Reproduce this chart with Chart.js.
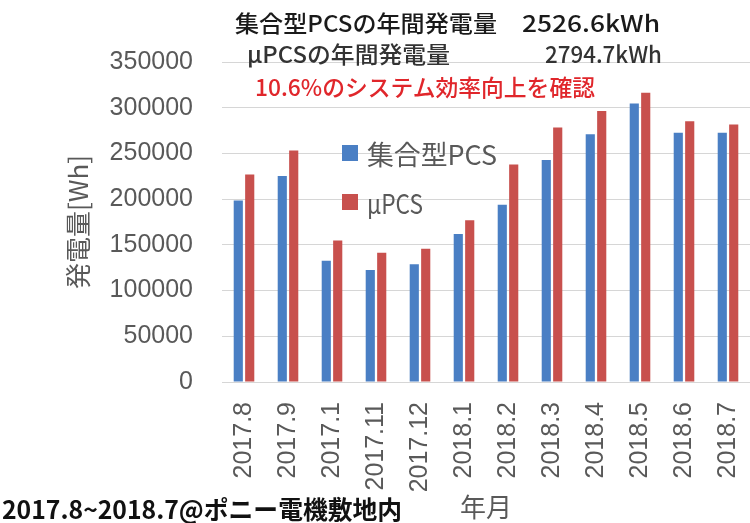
<!DOCTYPE html>
<html><head><meta charset="utf-8">
<script src="https://cdn.jsdelivr.net/npm/chart.js@4"></script>
<style>
html,body{margin:0;padding:0;background:#fff;}
#wrap{position:relative;width:750px;height:523px;overflow:hidden;background:#fff;}
#c{position:absolute;left:0;top:0;}
.t{position:absolute;white-space:nowrap;font-family:"Noto Sans CJK JP",sans-serif;transform-origin:0 50%;display:inline-block;line-height:1;}
.sq{position:absolute;width:16px;height:16px;}
</style></head><body>
<div id="wrap"><canvas id="c" width="750" height="523"></canvas><div id="overlay"></div></div>
<script>
// ---- data ----
const months = ['2017.8','2017.9','2017.1','2017.11','2017.12','2018.1','2018.2','2018.3','2018.4','2018.5','2018.6','2018.7'];
const centralPCS = [198600,225200,132700,122400,128700,161800,193900,242700,271100,304700,272600,272600];
const microPCS   = [227000,253300,154900,141400,145800,176800,238000,278400,296300,316400,285300,281700];
const seriesNames = ['集合型PCS','μPCS'];
const yTitle = '発電量[Wh]';
const xTitle = '年月';
const noteTexts = ['集合型PCSの年間発電量','2526.6kWh','μPCSの年間発電量','2794.7kWh','10.6%のシステム効率向上を確認','2017.8~2018.7@ポニー電機敷地内'];

// ---- layout of free texts (x, centerY, width, size, color, weight) ----
const noteLayout = [
  [235,22,262,23,'#1a1a1a',500],
  [522,22,138,23,'#1a1a1a',500],
  [247,53,203,23,'#333',500],
  [545,53,117,23,'#333',500],
  [255,86,340,23,'#e0262b',500],
  [2,508,400,25,'#111',700]
];

const chart = new Chart(document.getElementById('c'), {
  type:'bar',
  data:{labels:months, datasets:[
    {label:seriesNames[0], data:centralPCS, backgroundColor:'#4a7fc4', categoryPercentage:0.52, barPercentage:0.8},
    {label:seriesNames[1], data:microPCS, backgroundColor:'#c8504d', categoryPercentage:0.52, barPercentage:0.8}
  ]},
  options:{
    responsive:false, animation:false, devicePixelRatio:1,
    layout:{padding:{top:62,left:0,right:0,bottom:0}},
    plugins:{legend:{display:false}, tooltip:{enabled:false}},
    scales:{
      x:{
        grid:{display:false, drawTicks:false}, border:{display:false},
        ticks:{autoSkip:false, maxRotation:90, minRotation:90, padding:20, color:'#595959', font:{family:'Liberation Sans', size:25}},
        title:{display:true, text:xTitle, color:'#595959', font:{family:'Noto Sans CJK JP', size:26}, padding:{top:0,bottom:0}},
        afterFit(s){ s.height = 141; s.paddingLeft = 0; s.paddingRight = 0; }
      },
      y:{
        min:0, max:350000,
        ticks:{stepSize:50000, padding:29, color:'#595959', font:{family:'Liberation Sans', size:25}, callback:v=>String(v)},
        grid:{color:'#d6d6d6', drawTicks:false}, border:{display:false},
        title:{display:true, text:yTitle, color:'#595959', font:{family:'Noto Sans CJK JP', size:26}, padding:{top:63,bottom:0}},
        afterFit(s){ s.width = 222; s.paddingTop = 0; s.paddingBottom = 0; }
      }
    }
  }
});

const ov = document.getElementById('overlay');
function addText(txt, x, cy, w, size, color, weight){
  const d = document.createElement('div');
  d.className = 't';
  d.textContent = txt;
  d.style.fontSize = size+'px';
  d.style.color = color;
  d.style.fontWeight = weight;
  d.style.left = x+'px';
  d.style.top = (cy - size/2)+'px';
  ov.appendChild(d);
  const a = d.getBoundingClientRect().width;
  if (w && a) d.style.transform = 'scaleX('+(w/a)+')';
}
noteTexts.forEach((t,i)=>{ const L = noteLayout[i]; addText(t, L[0], L[1], L[2], L[3], L[4], L[5]); });

// legend from datasets
const legendPos = [[342,153,130],[342,202,56]];
chart.data.datasets.forEach((ds,i)=>{
  const [x,cy,w] = legendPos[i];
  const s = document.createElement('div');
  s.className='sq'; s.style.left=x+'px'; s.style.top=(cy-8)+'px'; s.style.background=ds.backgroundColor;
  ov.appendChild(s);
  addText(ds.label, x+25, cy, w, 27, '#595959', 400);
});
</script>
</body></html>
